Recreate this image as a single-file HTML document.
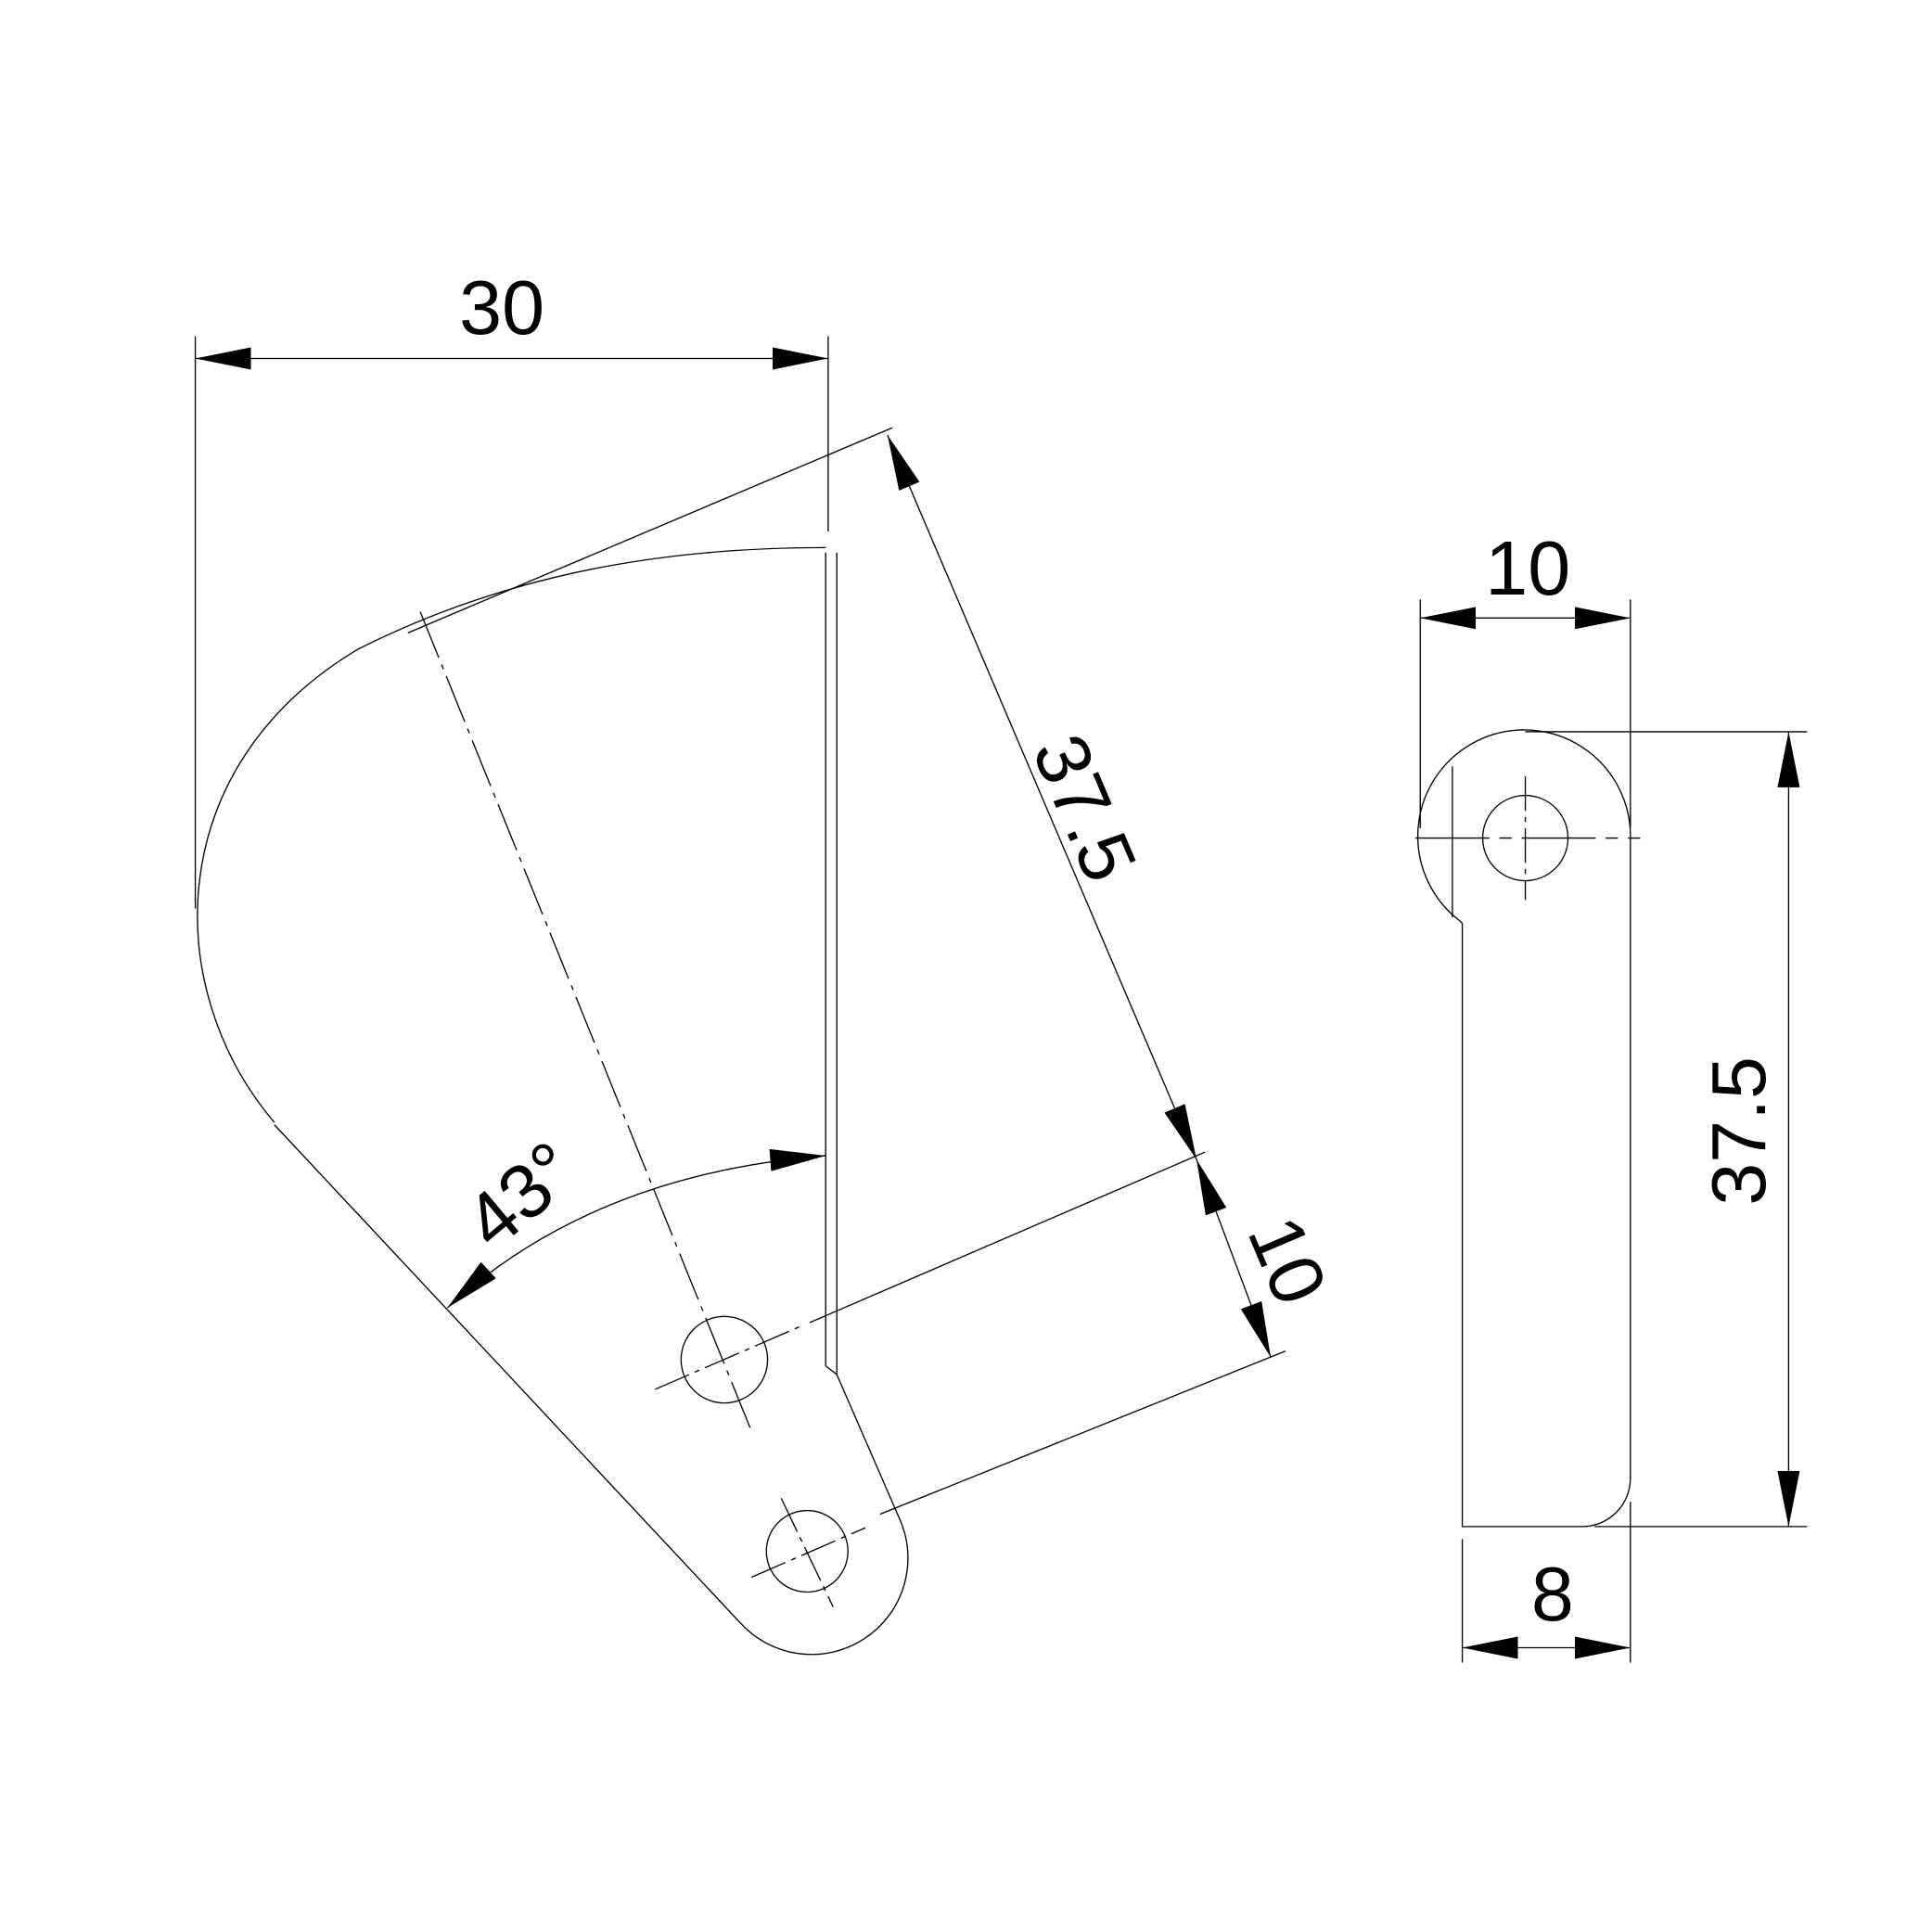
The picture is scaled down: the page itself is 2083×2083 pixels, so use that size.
<!DOCTYPE html>
<html><head><style>html,body{margin:0;padding:0;background:#fff}svg{display:block}</style></head>
<body>
<svg width="2083" height="2083" viewBox="0 0 1563 1563" xmlns="http://www.w3.org/2000/svg">
<defs>
<marker id="a" viewBox="0 0 10 4" refX="10" refY="2" markerWidth="45" markerHeight="18" markerUnits="userSpaceOnUse" orient="auto-start-reverse"><path d="M0,0 L10,2 L0,4 z" fill="#000"/></marker>
</defs>
<g fill="none" stroke="#000" stroke-width="1">
<line x1="158" y1="272" x2="158" y2="735"/>
<line x1="670" y1="272" x2="670" y2="430"/>
<line x1="158" y1="290" x2="670" y2="290" marker-start="url(#a)" marker-end="url(#a)"/>
<path d="M222,908 C130,800 130,620 290,525 C400,470 520,443 668,443"/>
<line x1="668" y1="447" x2="668" y2="1105"/>
<line x1="677" y1="447" x2="677" y2="1112"/>
<path d="M668,1105 L677,1112"/>
<path d="M677,1112 L727,1227 A78,78 0 0 1 598,1312 L222,910"/>
<line x1="722" y1="346" x2="330" y2="512"/>
<line x1="718" y1="352" x2="968" y2="938" marker-start="url(#a)" marker-end="url(#a)"/>
<line x1="655" y1="1070" x2="975" y2="932"/>
<line x1="712" y1="1225" x2="1040" y2="1093"/>
<line x1="968" y1="938" x2="1028" y2="1098" marker-start="url(#a)" marker-end="url(#a)"/>
<line x1="340" y1="495" x2="608" y2="1158" stroke-dasharray="40,6,4,6"/>
<circle cx="586" cy="1100" r="35"/>
<line x1="530" y1="1124" x2="650" y2="1072" stroke-dasharray="30,5,4,5"/>
<circle cx="653" cy="1255" r="33"/>
<line x1="608" y1="1276" x2="700" y2="1236" stroke-dasharray="30,5,4,5"/>
<line x1="632" y1="1212" x2="674" y2="1300" stroke-dasharray="30,5,4,5"/>
<path d="M362,1058 Q480,950 668,935" marker-start="url(#a)" marker-end="url(#a)"/>
<path d="M1181,745 A86,86 0 1 1 1319,678"/>
<path d="M1181,745 L1183,747 L1183,1235 L1280,1235 A39,39 0 0 0 1319,1196 L1319,678"/>
<line x1="1175" y1="620" x2="1175" y2="742"/>
<line x1="1145" y1="678" x2="1327" y2="678" stroke-dasharray="60,8,10,8"/>
<line x1="1234" y1="628" x2="1234" y2="728" stroke-dasharray="28,5,4,5"/>
<circle cx="1234" cy="678" r="34.5"/>
<line x1="1149" y1="485" x2="1149" y2="670"/>
<line x1="1319" y1="485" x2="1319" y2="670"/>
<line x1="1149" y1="500" x2="1319" y2="500" marker-start="url(#a)" marker-end="url(#a)"/>
<line x1="1234" y1="592" x2="1462" y2="592"/>
<line x1="1290" y1="1235" x2="1462" y2="1235"/>
<line x1="1447" y1="592" x2="1447" y2="1235" marker-start="url(#a)" marker-end="url(#a)"/>
<line x1="1183" y1="1245" x2="1183" y2="1345"/>
<line x1="1319" y1="1215" x2="1319" y2="1345"/>
<line x1="1183" y1="1333" x2="1319" y2="1333" marker-start="url(#a)" marker-end="url(#a)"/>
</g>
<g font-family="Liberation Sans, sans-serif" font-size="62" fill="#000" text-anchor="middle">
<text x="406" y="270">30</text>
<text x="1236" y="481">10</text>
<text x="1256" y="1311">8</text>
<text transform="translate(1428,915) rotate(-90)">37.5</text>
<text transform="translate(858,662) rotate(67)">37.5</text>
<text transform="translate(1022,1028) rotate(67)">10</text>
<text transform="translate(435,983) rotate(-40)">43°</text>
</g>
</svg>
</body></html>
